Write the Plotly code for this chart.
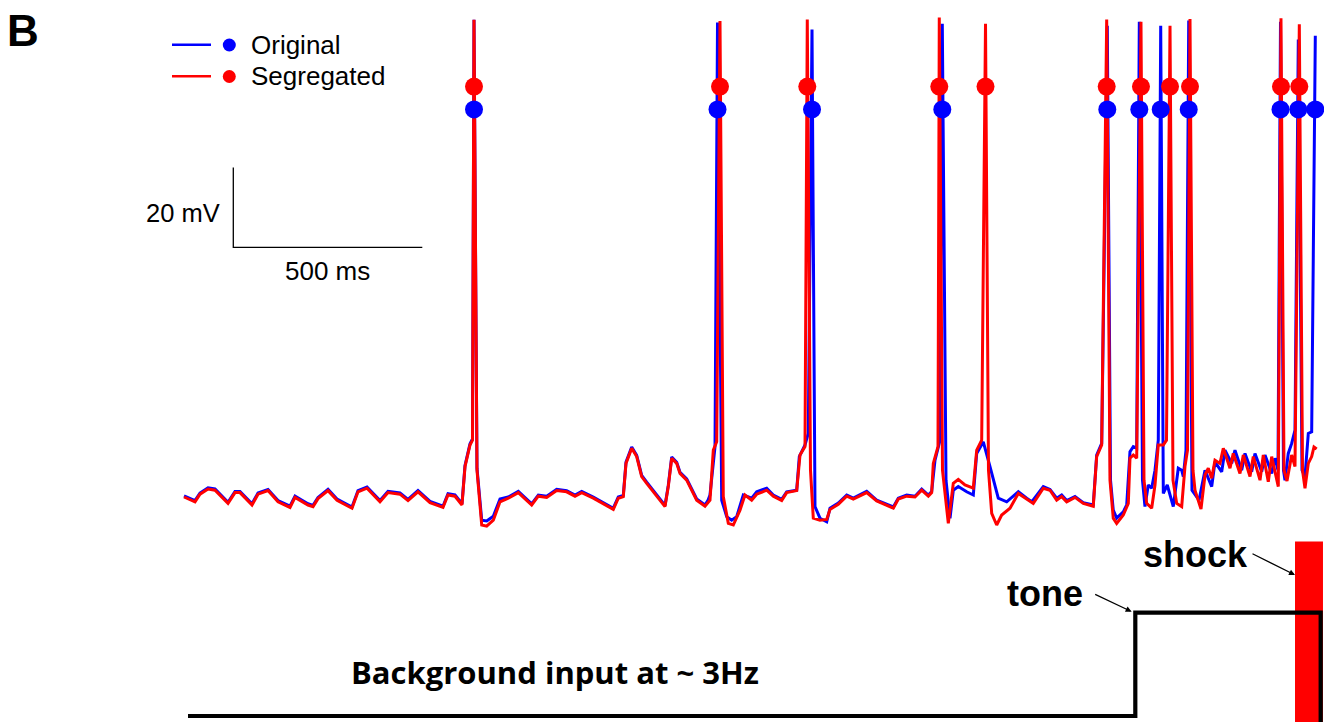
import plotly.graph_objects as go

# ---------------- data (time in ms, membrane potential in mV) ----------------
red_t = [0, 29.1, 42.3, 63.5, 82.0, 116.4, 134.9, 148.1, 179.9, 195.8,
         222.2, 248.7, 280.4, 293.7, 328.0, 341.3, 354.5, 381.0, 404.8, 444.4,
         460.3, 484.1, 518.5, 539.7, 571.4, 592.6, 619.0, 650.8, 685.2, 698.4,
         716.9, 735.4, 743.4, 756.6, 763.2, 767.2, 775.1, 787.6, 800.8, 818.3,
         836.0, 858.0, 884.4, 919.8, 937.3, 959.5, 986.0, 1012.4, 1034.4, 1052.1,
         1082.8, 1100.5, 1135.7, 1148.9, 1162.2, 1169.3, 1184.4, 1197.6, 1210.8, 1224.1,
         1241.6, 1272.5, 1281.2, 1290.2, 1303.4, 1312.2, 1329.9, 1356.3, 1378.3, 1391.5,
         1400.3, 1409.3, 1418.0, 1426.7, 1440.0, 1453.2, 1470.9, 1484.1, 1501.8, 1515.1,
         1541.5, 1559.0, 1581.2, 1594.4, 1620.9, 1629.6, 1642.9, 1648.9, 1657.4, 1664.8,
         1682.5, 1700.3, 1709.0, 1731.0, 1753.2, 1770.6, 1806.1, 1832.5, 1876.5, 1889.7,
         1911.9, 1933.9, 1951.6, 1969.1, 1978.0, 1982.3, 1994.7, 1998.1, 2006.6, 2022.0,
         2035.2, 2048.4, 2066.1, 2079.4, 2088.1, 2097.1, 2110.3, 2120.4, 2128.3, 2136.8,
         2150.0, 2163.2, 2185.2, 2207.2, 2246.8, 2273.3, 2291.0, 2308.7, 2321.9, 2335.2,
         2357.1, 2379.1, 2405.5, 2414.5, 2427.8, 2441.0, 2449.7, 2458.4, 2467.4, 2484.9,
         2498.2, 2502.6, 2511.4, 2520.4, 2531.7, 2539.7, 2546.8, 2560.0, 2568.8, 2577.5,
         2590.8, 2599.2, 2608.5, 2616.4, 2626.2, 2639.4, 2648.1, 2654.8, 2661.4, 2669.3,
         2674.6, 2690.5, 2701.1, 2709.8, 2718.8, 2727.5, 2740.7, 2749.5, 2767.2, 2775.9,
         2793.6, 2802.4, 2820.1, 2828.8, 2846.6, 2855.3, 2868.5, 2877.5, 2895.0, 2902.1,
         2910.1, 2918.0, 2930.4, 2939.2, 2950.6, 2959.0, 2965.6, 2974.4, 2983.3, 2989.4, 2996.5]
red_v = [-65.0, -66.2, -64.3, -63.0, -63.3, -66.6, -63.9, -63.9, -67.0, -64.3,
         -63.4, -66.2, -67.6, -65.1, -67.0, -67.4, -65.4, -63.4, -65.8, -67.8,
         -63.7, -62.8, -66.2, -63.9, -64.3, -65.9, -63.7, -66.4, -67.6, -64.5,
         -64.8, -67.0, -57.4, -52.0, -50.8, 54.3, -58.3, -72.0, -72.3, -70.8,
         -66.2, -65.3, -63.9, -67.0, -64.8, -65.1, -63.4, -63.7, -64.8, -63.9,
         -65.3, -66.2, -68.1, -65.3, -64.9, -56.6, -52.8, -54.9, -59.9, -61.6,
         -63.7, -67.4, -62.4, -55.3, -56.6, -59.1, -60.8, -65.8, -67.3, -65.8,
         -53.3, -51.2, 54.0, -64.9, -71.6, -72.0, -68.3, -64.5, -65.8, -64.3,
         -63.3, -64.8, -65.9, -63.9, -63.4, -54.5, -52.4, 54.4, -58.3, -70.3,
         -70.8, -70.6, -68.1, -66.8, -64.8, -65.5, -63.9, -66.0, -67.8, -65.5,
         -64.8, -65.0, -63.3, -64.8, -63.9, -56.6, -52.4, 54.9, -58.3, -71.6,
         -61.6, -60.6, -62.0, -62.4, -62.8, -53.3, -50.8, 53.3, -58.3, -69.1,
         -72.0, -69.5, -67.8, -64.1, -66.6, -62.8, -63.3, -65.8, -64.9, -66.2,
         -65.1, -66.6, -67.3, -54.9, -52.0, 54.4, -60.8, -70.3, -71.6, -69.5,
         -66.6, -55.3, -54.5, -55.3, 53.8, -60.8, -66.6, -67.8, -62.0, -52.0,
         -52.0, -50.8, 52.8, -60.8, -66.6, -67.4, -57.4, -53.3, 54.5, -58.3,
         -63.3, -68.0, -59.5, -57.8, -60.3, -55.8, -56.6, -52.8, -57.8, -54.1,
         -59.1, -54.5, -59.9, -54.9, -60.8, -54.5, -61.2, -54.9, -62.4, 54.7,
         -58.3, -61.0, -54.5, -57.4, 53.2, -58.3, -62.8, -56.6, -54.9, -52.5, -53.0]

blue_t = [0, 29.1, 42.3, 63.5, 82.0, 116.4, 134.9, 148.1, 179.9, 195.8,
          222.2, 248.7, 280.4, 293.7, 328.0, 341.3, 354.5, 381.0, 404.8, 444.4,
          460.3, 484.1, 518.5, 539.7, 571.4, 592.6, 619.0, 650.8, 685.2, 698.4,
          716.9, 735.4, 743.4, 756.6, 763.2, 767.2, 775.1, 787.6, 800.8, 818.3,
          836.0, 858.0, 884.4, 919.8, 937.3, 959.5, 986.0, 1012.4, 1034.4, 1052.1,
          1082.8, 1100.5, 1135.7, 1148.9, 1162.2, 1169.3, 1184.4, 1197.6, 1210.8, 1224.1,
          1241.6, 1272.5, 1281.2, 1290.2, 1303.4, 1312.2, 1329.9, 1356.3, 1378.3, 1386.2,
          1391.5, 1404.8, 1411.4, 1422.5, 1435.7, 1448.9, 1462.2, 1479.6, 1501.8, 1515.1,
          1541.5, 1559.0, 1581.2, 1594.4, 1620.9, 1627.8, 1642.9, 1651.6, 1661.4, 1669.3,
          1682.5, 1700.3, 1709.0, 1731.0, 1753.2, 1770.6, 1806.1, 1832.5, 1876.5, 1889.7,
          1911.9, 1933.9, 1951.6, 1969.1, 1978.0, 1986.8, 2000.0, 2006.1, 2015.9, 2026.5,
          2035.2, 2048.4, 2070.6, 2088.1, 2097.1, 2114.6, 2132.3, 2154.2, 2176.5, 2207.2,
          2229.4, 2242.6, 2273.3, 2291.0, 2308.7, 2321.9, 2335.2, 2357.1, 2379.1, 2405.5,
          2414.5, 2427.8, 2442.6, 2451.1, 2458.4, 2467.4, 2484.9, 2493.9, 2502.6, 2511.4,
          2520.4, 2527.3, 2535.7, 2542.3, 2551.0, 2560.0, 2568.8, 2577.5, 2583.9, 2590.8,
          2601.3, 2617.2, 2630.4, 2639.4, 2643.7, 2650.8, 2658.0, 2666.7, 2685.2, 2701.1,
          2718.8, 2727.5, 2745.2, 2753.9, 2771.7, 2780.4, 2798.1, 2806.9, 2824.6, 2833.3,
          2851.1, 2859.8, 2877.5, 2886.2, 2894.2, 2900.8, 2908.7, 2912.7, 2921.4, 2930.4,
          2939.2, 2947.9, 2957.7, 2965.6, 2974.4, 2983.3, 2992.9]
blue_v = [-64.7, -65.9, -64.0, -62.7, -63.0, -66.3, -63.6, -63.6, -66.7, -64.0,
          -63.1, -65.9, -67.3, -64.8, -66.7, -67.1, -65.1, -63.1, -65.5, -67.5,
          -63.4, -62.5, -65.9, -63.6, -64.0, -65.6, -63.4, -66.1, -67.3, -64.2,
          -64.5, -66.7, -57.1, -51.7, -50.5, 54.3, -57.8, -70.8, -71.0, -69.8,
          -65.5, -65.0, -63.6, -66.7, -64.5, -64.8, -63.1, -63.4, -64.5, -63.6,
          -65.0, -65.9, -67.8, -65.0, -64.6, -56.3, -52.5, -54.6, -59.6, -61.3,
          -63.4, -67.1, -62.1, -55.0, -56.3, -58.8, -60.5, -65.5, -67.0, -65.8,
          -64.5, -52.4, 53.6, -65.8, -69.9, -70.8, -69.9, -64.5, -65.3, -63.7,
          -62.8, -64.5, -65.6, -63.7, -63.3, -54.9, -52.0, -49.1, 51.9, -67.4,
          -70.3, -71.2, -67.8, -66.5, -64.5, -65.3, -63.6, -65.8, -67.5, -65.3,
          -64.5, -64.8, -63.0, -64.5, -63.6, -55.8, -50.8, 53.3, -60.8, -70.3,
          -63.3, -62.4, -63.7, -64.5, -54.1, -51.2, -57.4, -65.3, -66.2, -63.7,
          -65.3, -66.2, -62.4, -63.1, -65.3, -64.5, -65.9, -64.9, -66.4, -67.0,
          -54.5, -51.6, 52.8, -60.8, -68.3, -70.3, -68.7, -67.0, -53.7, -52.4,
          -52.8, 53.8, -60.8, -67.4, -62.0, -62.8, -58.3, -50.8, 52.8, -64.1,
          -62.0, -67.4, -57.8, -58.3, -59.9, -53.3, 54.1, -63.3, -65.8, -58.3,
          -62.4, -56.2, -58.7, -53.3, -56.6, -53.3, -58.3, -54.1, -58.7, -54.1,
          -58.7, -54.5, -59.1, -55.3, -58.3, 53.8, -58.3, -60.8, -54.1, -51.6,
          -48.3, 49.4, -58.3, -59.9, -49.1, -48.7, 50.3]

assert len(red_t) == len(red_v) and len(blue_t) == len(blue_v)

# detected spike times (ms) and the level at which the spike markers are drawn (mV)
red_spikes = [767.2, 1418.0, 1648.9, 1998.1, 2120.4, 2441.0, 2531.7, 2608.5, 2661.4, 2902.1, 2950.6]
blue_spikes = [767.2, 1411.4, 1661.4, 2006.1, 2442.6, 2527.3, 2583.9, 2658.0, 2900.8, 2947.9, 2992.9]
red_marker_level = 37.6
blue_marker_level = 31.9

# stimulus protocol (level 0 = background only, 1 = tone on)
stim_t = [10.6, 2516.7, 2516.7, 3007.1, 3007.1]
stim_level = [0, 0, 1, 1, -1]
shock_start, shock_end, shock_height = 2939.2, 3013.2, 1.69

# scale bar
bar_ms, bar_mv = 500, 20
bar_t0, bar_v0 = 130.4, -2.6

BLUE = "#0000FF"
RED = "#FF0000"
FONT = "Liberation Sans, Arial, sans-serif"

fig = go.Figure()

fig.add_trace(go.Scatter(x=blue_t, y=blue_v, mode="lines", name="Original",
                         line=dict(color=BLUE, width=3)))
fig.add_trace(go.Scatter(x=red_t, y=red_v, mode="lines", name="Segregated",
                         line=dict(color=RED, width=3)))
fig.add_trace(go.Scatter(x=blue_spikes, y=[blue_marker_level] * len(blue_spikes), mode="markers",
                         marker=dict(color=BLUE, size=18), showlegend=False))
fig.add_trace(go.Scatter(x=red_spikes, y=[red_marker_level] * len(red_spikes), mode="markers",
                         marker=dict(color=RED, size=18), showlegend=False))

# scale bar
fig.add_trace(go.Scatter(x=[bar_t0, bar_t0, bar_t0 + bar_ms], y=[bar_v0 + bar_mv, bar_v0, bar_v0],
                         mode="lines", line=dict(color="black", width=1.3), showlegend=False))

# stimulus step
fig.add_trace(go.Scatter(x=stim_t, y=stim_level, yaxis="y2", mode="lines",
                         line=dict(color="black", width=4.2, shape="linear"), showlegend=False))

shapes = [
    dict(type="rect", xref="x", yref="y2", x0=shock_start, x1=shock_end, y0=-1, y1=shock_height,
         fillcolor=RED, line=dict(width=0), layer="below"),
    # legend glyphs
    dict(type="line", xref="paper", yref="paper", x0=172 / 1324, x1=211 / 1324,
         y0=1 - 44.7 / 722, y1=1 - 44.7 / 722, line=dict(color=BLUE, width=2.4)),
    dict(type="line", xref="paper", yref="paper", x0=172 / 1324, x1=211 / 1324,
         y0=1 - 76.3 / 722, y1=1 - 76.3 / 722, line=dict(color=RED, width=2.4)),
    dict(type="circle", xref="paper", yref="paper", x0=222.8 / 1324, x1=235.8 / 1324,
         y0=1 - 51.5 / 722, y1=1 - 38.5 / 722, fillcolor=BLUE, line=dict(width=0)),
    dict(type="circle", xref="paper", yref="paper", x0=222.8 / 1324, x1=235.8 / 1324,
         y0=1 - 83 / 722, y1=1 - 70 / 722, fillcolor=RED, line=dict(width=0)),
]

annotations = [
    dict(text="<b>B</b>", x=23 / 1324, y=1 - 30 / 722, xref="paper", yref="paper",
         showarrow=False, font=dict(family=FONT, size=44, color="black"), xanchor="center", yanchor="middle"),
    dict(text="Original", x=249 / 1324, y=1 - 44.5 / 722, xref="paper", yref="paper",
         showarrow=False, font=dict(family=FONT, size=26, color="black"), xanchor="left", yanchor="middle"),
    dict(text="Segregated", x=249 / 1324, y=1 - 76 / 722, xref="paper", yref="paper",
         showarrow=False, font=dict(family=FONT, size=26, color="black"), xanchor="left", yanchor="middle"),
    dict(text="20 mV", x=222 / 1324, y=1 - 212.5 / 722, xref="paper", yref="paper",
         showarrow=False, font=dict(family=FONT, size=25.5, color="black"), xanchor="right", yanchor="middle"),
    dict(text="500 ms", x=327 / 1324, y=1 - 271 / 722, xref="paper", yref="paper",
         showarrow=False, font=dict(family=FONT, size=26, color="black"), xanchor="center", yanchor="middle"),
    dict(text="<b>tone</b>", x=1045 / 1324, y=1 - 593 / 722, xref="paper", yref="paper",
         showarrow=False, font=dict(family=FONT, size=36, color="black"), xanchor="center", yanchor="middle"),
    dict(text="<b>shock</b>", x=1195.5 / 1324, y=1 - 554 / 722, xref="paper", yref="paper",
         showarrow=False, font=dict(family=FONT, size=36, color="black"), xanchor="center", yanchor="middle"),
    dict(text="<b>Background input at ~ 3Hz</b>", x=555 / 1324, y=1 - 672 / 722, xref="paper", yref="paper",
         showarrow=False, font=dict(family="Open Sans, sans-serif", size=31, color="black"),
         xanchor="center", yanchor="middle"),
    # arrows
    dict(text="", x=2507.1, y=1.01, xref="x", yref="y2", showarrow=True, ax=-38, ay=-18,
         arrowhead=2, arrowsize=1, arrowwidth=1.2, arrowcolor="black"),
    dict(text="", x=shock_start, y=1.365, xref="x", yref="y2", showarrow=True, ax=-44, ay=-22,
         arrowhead=2, arrowsize=1, arrowwidth=1.2, arrowcolor="black"),
]

fig.update_layout(
    width=1324, height=722,
    margin=dict(l=0, r=0, t=0, b=0),
    paper_bgcolor="white", plot_bgcolor="white",
    showlegend=False,
    xaxis=dict(range=[-486.8, 3015.9], visible=False, fixedrange=True),
    yaxis=dict(range=[-121.25, 59.25], visible=False, fixedrange=True),
    yaxis2=dict(range=[-0.058, 6.931], overlaying="y", visible=False, fixedrange=True),
    shapes=shapes,
    annotations=annotations,
)

fig.write_html("out.html", config={"displayModeBar": False})
